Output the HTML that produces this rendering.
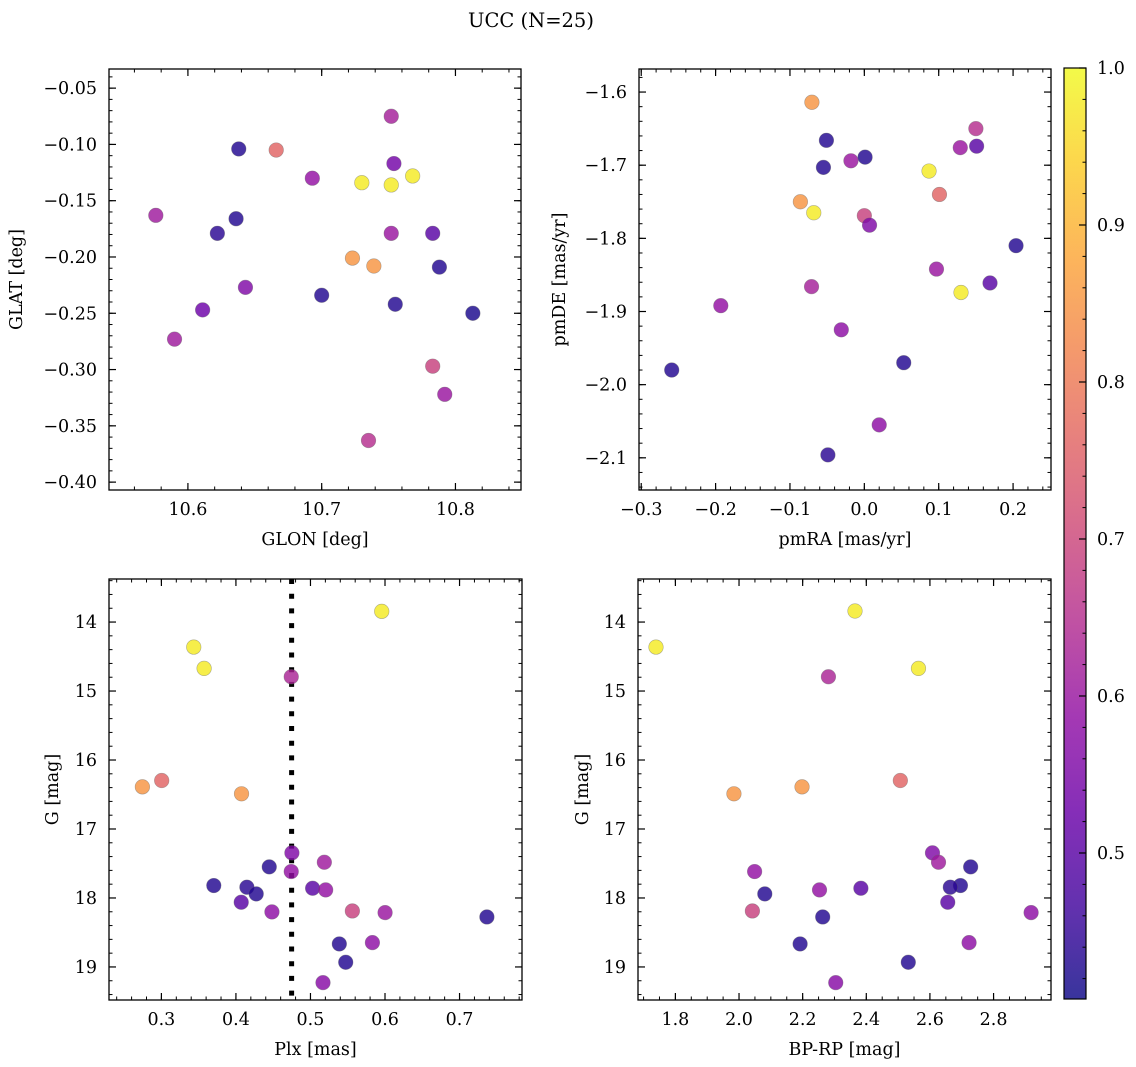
<!DOCTYPE html>
<html><head><meta charset="utf-8">
<style>
html,body{margin:0;padding:0;background:#fff;}
svg{display:block;font-family:"DejaVu Serif","Liberation Serif",serif;}
</style></head>
<body>
<svg id="fig" width="1136" height="1067" viewBox="0 0 1136 1067" xmlns="http://www.w3.org/2000/svg">
<text x="531" y="27" text-anchor="middle" font-size="19.5">UCC (N=25)</text>
</svg>
<script>
// ---- Panel 1 data: GLON vs GLAT
const glon = [10.752,10.638,10.666,10.693,10.754,10.730,10.752,10.768,10.576,10.636,10.622,10.752,10.783,10.723,10.739,10.788,10.643,10.700,10.755,10.611,10.813,10.590,10.783,10.792,10.735];
const glat = [-0.075,-0.104,-0.105,-0.130,-0.117,-0.134,-0.136,-0.128,-0.163,-0.166,-0.179,-0.179,-0.179,-0.201,-0.208,-0.209,-0.227,-0.234,-0.242,-0.247,-0.250,-0.273,-0.297,-0.322,-0.363];
const prob1 = [0.62,0.43,0.76,0.59,0.54,0.98,0.98,0.98,0.61,0.43,0.44,0.60,0.50,0.85,0.85,0.43,0.56,0.43,0.43,0.53,0.42,0.61,0.69,0.60,0.65];
// ---- Panel 2 data: pmRA vs pmDE
const pmra = [-0.0705,-0.051,0.001,-0.018,-0.055,0.150,0.129,0.151,0.087,0.101,-0.086,-0.068,0.000,0.007,0.204,0.097,0.169,0.130,-0.071,-0.193,-0.031,0.053,-0.259,0.020,-0.049];
const pmde = [-1.614,-1.666,-1.689,-1.694,-1.703,-1.650,-1.676,-1.674,-1.708,-1.740,-1.750,-1.765,-1.769,-1.782,-1.810,-1.842,-1.861,-1.874,-1.866,-1.892,-1.925,-1.970,-1.980,-2.055,-2.096];
const prob2 = [0.85,0.43,0.43,0.60,0.43,0.65,0.60,0.50,0.98,0.76,0.85,0.98,0.69,0.56,0.43,0.60,0.50,0.98,0.62,0.59,0.58,0.43,0.43,0.58,0.44];
// ---- Panel 3 data: Plx vs G
const plx = [0.5956,0.3434,0.3573,0.4742,0.2745,0.3004,0.4075,0.4751,0.4447,0.5186,0.4742,0.3703,0.4147,0.4272,0.5029,0.5204,0.4071,0.4483,0.5562,0.6001,0.7367,0.5387,0.5831,0.5473,0.5168];
const gmag3 = [13.845,14.363,14.672,14.793,16.389,16.297,16.490,17.346,17.549,17.482,17.617,17.820,17.844,17.941,17.859,17.883,18.062,18.202,18.188,18.212,18.275,18.666,18.647,18.932,19.227];
const prob3 = [0.98,0.98,0.98,0.63,0.85,0.76,0.85,0.56,0.43,0.61,0.59,0.43,0.44,0.43,0.50,0.59,0.50,0.58,0.69,0.60,0.43,0.43,0.58,0.43,0.57];
const plxRef = [0.4747];
// ---- Panel 4 data: BP-RP vs G
const bprp = [2.3645,1.739,2.564,2.281,1.984,2.198,2.507,2.608,2.627,2.728,2.049,2.696,2.664,2.081,2.383,2.253,2.656,2.042,2.918,2.263,2.192,2.723,2.532,2.304];
const gmag4 = [13.840,14.363,14.672,14.793,16.490,16.389,16.297,17.346,17.482,17.549,17.617,17.820,17.844,17.941,17.859,17.883,18.062,18.188,18.212,18.275,18.666,18.647,18.932,19.227];
const prob4 = [0.98,0.98,0.98,0.63,0.85,0.85,0.76,0.56,0.61,0.43,0.59,0.43,0.44,0.43,0.50,0.59,0.50,0.69,0.58,0.43,0.43,0.58,0.43,0.57];
// ---- ticks
const ticks1x = [10.6,10.7,10.8];
const ticks1y = [-0.05,-0.10,-0.15,-0.20,-0.25,-0.30,-0.35,-0.40];
const ticks2x = [-0.3,-0.2,-0.1,0.0,0.1,0.2];
const ticks2y = [-1.6,-1.7,-1.8,-1.9,-2.0,-2.1];
const ticks3x = [0.3,0.4,0.5,0.6,0.7];
const ticksG = [14,15,16,17,18,19];
const ticks4x = [1.8,2.0,2.2,2.4,2.6,2.8];
const ticksCb = [0.5,0.6,0.7,0.8,0.9,1.0];
const cMin = 0.407, cMax = 1.0;

const NS = "http://www.w3.org/2000/svg";
const svg = document.getElementById('fig');
const FS = 17.5;
function mk(tag, attrs, parent){const e=document.createElementNS(NS,tag);for(const k in attrs)e.setAttribute(k,attrs[k]);(parent||svg).appendChild(e);return e;}
const stops = ["#0d0887","#41049d","#6a00a8","#8f0da4","#b12a90","#cc4778","#e16462","#f2844b","#fca636","#fcce25","#f0f921"];
function hex(h){return [parseInt(h.slice(1,3),16),parseInt(h.slice(3,5),16),parseInt(h.slice(5,7),16)];}
function plasma(t){t=Math.max(0,Math.min(1,t));const p=t*10;const i=Math.min(9,Math.floor(p));const f=p-i;const a=hex(stops[i]),b=hex(stops[i+1]);return `rgb(${Math.round(a[0]+(b[0]-a[0])*f)},${Math.round(a[1]+(b[1]-a[1])*f)},${Math.round(a[2]+(b[2]-a[2])*f)})`;}
function cmap(v){return plasma((v-cMin)/(cMax-cMin));}
function fmt(v,d){const s=Math.abs(v).toFixed(d);return (v<-1e-9?'\u2212':'')+s;}

function panel(o){
  const g = mk('g',{});
  
  
  const X = v => o.x0 + (v-o.xmin)/(o.xmax-o.xmin)*(o.x1-o.x0);
  const Y = o.inv ? (v => o.y0 + (v-o.ymin)/(o.ymax-o.ymin)*(o.y1-o.y0)) : (v => o.y1 - (v-o.ymin)/(o.ymax-o.ymin)*(o.y1-o.y0));
  const eps=1e-9;
  for(let v=Math.ceil(o.xmin/o.xminor)*o.xminor; v<=o.xmax+eps; v+=o.xminor){const px=X(v);
    mk('line',{x1:px,x2:px,y1:o.y1,y2:o.y1-3.5,stroke:'#000','stroke-width':1},g);
    mk('line',{x1:px,x2:px,y1:o.y0,y2:o.y0+3.5,stroke:'#000','stroke-width':1},g);}
  const ylo=Math.min(o.ymin,o.ymax), yhi=Math.max(o.ymin,o.ymax);
  for(let v=Math.ceil(ylo/o.yminor)*o.yminor; v<=yhi+eps; v+=o.yminor){const py=Y(v);
    mk('line',{x1:o.x0,x2:o.x0+3.5,y1:py,y2:py,stroke:'#000','stroke-width':1},g);
    mk('line',{x1:o.x1,x2:o.x1-3.5,y1:py,y2:py,stroke:'#000','stroke-width':1},g);}
  o.tx.forEach(v=>{const px=X(v);
    mk('line',{x1:px,x2:px,y1:o.y1,y2:o.y1-7,stroke:'#000','stroke-width':1.2},g);
    mk('line',{x1:px,x2:px,y1:o.y0,y2:o.y0+7,stroke:'#000','stroke-width':1.2},g);
    const t=mk('text',{x:px,y:o.y1+25,'text-anchor':'middle','font-size':FS},g);t.textContent=fmt(v,o.xd);
    
    });
  o.ty.forEach(v=>{const py=Y(v);
    mk('line',{x1:o.x0,x2:o.x0+7,y1:py,y2:py,stroke:'#000','stroke-width':1.2},g);
    mk('line',{x1:o.x1,x2:o.x1-7,y1:py,y2:py,stroke:'#000','stroke-width':1.2},g);
    const t=mk('text',{x:o.x0-12,y:py+6,'text-anchor':'end','font-size':FS},g);t.textContent=fmt(v,o.yd);
    
    });
  if(o.vline){const px=X(o.vline[0]);
    const l=mk('line',{x1:px,x2:px,y1:o.y0,y2:o.y1,stroke:'#000','stroke-width':5,'stroke-dasharray':'5 9.7'},g);
    
    }
  for(let i=0;i<o.xs.length;i++){
    const c=mk('circle',{cx:X(o.xs[i]),cy:Y(o.ys[i]),r:7.3,fill:cmap(o.cs[i]),'fill-opacity':0.82,stroke:'#666','stroke-opacity':0.5,'stroke-width':0.6},g);
    
    
  }
  const b=mk('rect',{x:o.x0,y:o.y0,width:o.x1-o.x0,height:o.y1-o.y0,fill:'none',stroke:'#000','stroke-width':1.3},g);
  
  
  const xl=mk('text',{x:(o.x0+o.x1)/2,y:o.y1+55,'text-anchor':'middle','font-size':FS},g);xl.textContent=o.xlabel;
  
  
  const cy=(o.y0+o.y1)/2;
  const yl=mk('text',{x:o.ylx,y:cy,'text-anchor':'middle','font-size':FS,transform:`rotate(-90 ${o.ylx} ${cy})`},g);yl.textContent=o.ylabel;
  
  
}

panel({name:'glon-glat-panel',x0:109,x1:521,y0:69,y1:490,xmin:10.541,xmax:10.849,ymin:-0.407,ymax:-0.033,
  xminor:0.02,yminor:0.01,tx:ticks1x,ty:ticks1y,xd:1,yd:2,xs:glon,ys:glat,cs:prob1,xlabel:'GLON [deg]',ylabel:'GLAT [deg]',ylx:22});
panel({name:'pm-panel',x0:639,x1:1051,y0:69,y1:490,xmin:-0.303,xmax:0.251,ymin:-2.144,ymax:-1.5685,
  xminor:0.02,yminor:0.02,tx:ticks2x,ty:ticks2y,xd:1,yd:1,xs:pmra,ys:pmde,cs:prob2,xlabel:'pmRA [mas/yr]',ylabel:'pmDE [mas/yr]',ylx:565});
panel({name:'plx-g-panel',x0:109,x1:522,y0:579,y1:1000,xmin:0.2297,xmax:0.7838,ymin:13.376,ymax:19.479,inv:true,
  xminor:0.02,yminor:0.2,tx:ticks3x,ty:ticksG,xd:1,yd:0,xs:plx,ys:gmag3,cs:prob3,vline:plxRef,xlabel:'Plx [mas]',ylabel:'G [mag]',ylx:58});
panel({name:'cmd-panel',x0:638,x1:1051,y0:579,y1:1000,xmin:1.6825,xmax:2.9805,ymin:13.376,ymax:19.479,inv:true,
  xminor:0.05,yminor:0.2,tx:ticks4x,ty:ticksG,xd:1,yd:0,xs:bprp,ys:gmag4,cs:prob4,xlabel:'BP-RP [mag]',ylabel:'G [mag]',ylx:588});

// colorbar
(function(){
  const x0=1064,x1=1086,y0=68,y1=999;
  const g=mk('g',{});
  
  
  const defs=mk('defs',{},g);
  const lg=mk('linearGradient',{id:'cbg',x1:0,y1:1,x2:0,y2:0},defs);
  for(let i=0;i<=20;i++){mk('stop',{offset:(i/20),'stop-color':plasma(i/20),'stop-opacity':0.82},lg);}
  mk('rect',{x:x0,y:y0,width:x1-x0,height:y1-y0,fill:'url(#cbg)'},g);
  const Y=v=>y1-(v-cMin)/(cMax-cMin)*(y1-y0);
  for(let v=0.42;v<=1.0001;v+=0.02){const py=Y(v);mk('line',{x1:x1,x2:x1-3.5,y1:py,y2:py,stroke:'#000','stroke-width':1},g);}
  ticksCb.forEach(v=>{const py=Y(v);mk('line',{x1:x1,x2:x1-7,y1:py,y2:py,stroke:'#000','stroke-width':1.2},g);
    const t=mk('text',{x:x1+11,y:py+6,'font-size':FS},g);t.textContent=v.toFixed(1);
    
    });
  mk('rect',{x:x0,y:y0,width:x1-x0,height:y1-y0,fill:'none',stroke:'#000','stroke-width':1.2},g);
})();
</script>
</body></html>
